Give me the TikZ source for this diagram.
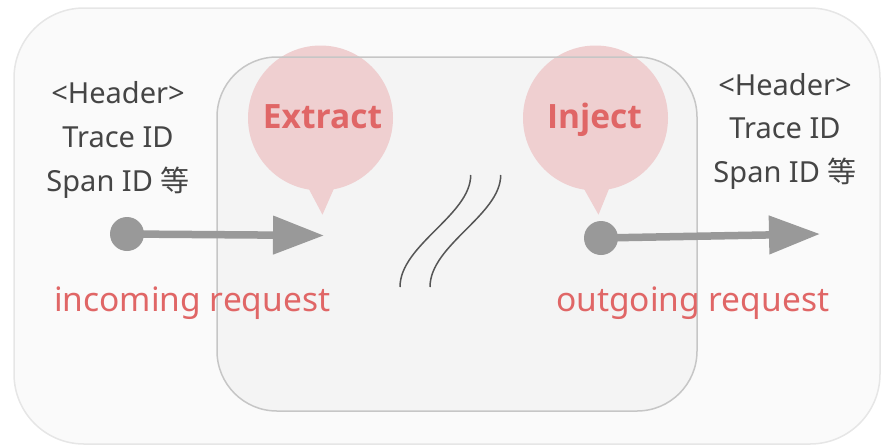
\documentclass[tikz,border=0pt]{standalone}
\usepackage{fontspec}
\setmainfont{Noto Sans}
\newfontfamily\cjk{Noto Sans CJK JP}
\newfontfamily\boldsans{Open Sans}
\usetikzlibrary{arrows.meta,calc}
\definecolor{outerfill}{HTML}{FAFAFA}
\definecolor{outerline}{HTML}{E6E6E6}
\definecolor{innerfill}{HTML}{F4F4F4}
\definecolor{innerline}{HTML}{C6C6C6}
\definecolor{balloonc}{HTML}{EFCFD0}
\definecolor{redtxt}{HTML}{E06666}
\definecolor{graytxt}{HTML}{454545}
\definecolor{arrowc}{HTML}{999999}
\definecolor{wavec}{HTML}{555555}
\tikzset{
  hdr/.style={anchor=base, inner sep=0pt, text=graytxt, font=\fontsize{29}{34}\selectfont},
  reqtxt/.style={anchor=base west, inner sep=0pt, text=redtxt, font=\fontsize{33.5}{38}\selectfont},
  balloon/.style={circle, fill=balloonc, minimum size=145pt, inner sep=0pt},
  balloontxt/.style={anchor=base, inner sep=0pt, text=redtxt, font=\boldsans\bfseries\fontsize{33.5}{38}\selectfont},
  dotnode/.style={circle, fill=arrowc, minimum size=34pt, inner sep=0pt},
  flow/.style={draw=arrowc, line width=7.5pt, -{Triangle[length=51pt,width=37pt]}},
  wave/.style={draw=wavec, line width=1.5pt},
}
\begin{document}
\begin{tikzpicture}[x=1pt,y=-1pt]
\useasboundingbox (0,0) rectangle (881,445);
% outer box
\node[draw=outerline, fill=outerfill, line width=1.5pt, rounded corners=70pt, minimum width=866pt, minimum height=436pt, inner sep=0pt] (outer) at (447,226) {};
% inner box fill
\fill[innerfill, rounded corners=60pt] (217,57) rectangle (697,411);
% balloons
\node[balloon] (ext) at (320.5,118) {};
\fill[balloonc] ($(ext.south)+(-15,-8)$) -- ($(ext.south)+(2,24)$) -- ($(ext.south)+(16,-8)$) -- cycle;
\node[balloon] (inj) at (595.5,118) {};
\fill[balloonc] ($(inj.south)+(-15,-8)$) -- ($(inj.south)+(3,24)$) -- ($(inj.south)+(16,-8)$) -- cycle;
% inner box border on top
\node[draw=innerline, line width=1.5pt, rounded corners=60pt, minimum width=480pt, minimum height=354pt, inner sep=0pt] (inner) at (457,234) {};
% balloon texts
\node[balloontxt] (extT) at (322.5,128) {Extract};
\node[balloontxt] (injT) at (594.5,128) {Inject};
% header texts
\node[hdr] (hl1) at (118,103) {<Header>};
\node[hdr] (hl2) at (118,147) {Trace ID};
\node[hdr] (hl3) at (118,191) {Span ID {\cjk 等}};
\node[hdr] (hr1) at (785,95) {<Header>};
\node[hdr] (hr2) at (785,138) {Trace ID};
\node[hdr] (hr3) at (785,182) {Span ID {\cjk 等}};
% arrows
\coordinate (tipL) at (324,235.5);
\coordinate (tipR) at (820,234);
\node[dotnode] (dotL) at (127,234) {};
\node[dotnode] (dotR) at (601,238) {};
\draw[flow] (dotL.center) -- (tipL);
\draw[flow] (dotR.center) -- (tipR);
% request labels
\node[reqtxt] (inc) at (54,311) {incoming request};
\node[reqtxt] (outg) at (556,311) {outgoing request};
% wave lines
\coordinate (w1a) at (470.7,175);
\coordinate (w1b) at (400,287);
\coordinate (w2a) at (500.7,175);
\coordinate (w2b) at (430,287);
\draw[wave] (w1a) .. controls (470.7,215) and (400,245) .. (w1b);
\draw[wave] (w2a) .. controls (500.7,215) and (430,245) .. (w2b);
\end{tikzpicture}
\end{document}
